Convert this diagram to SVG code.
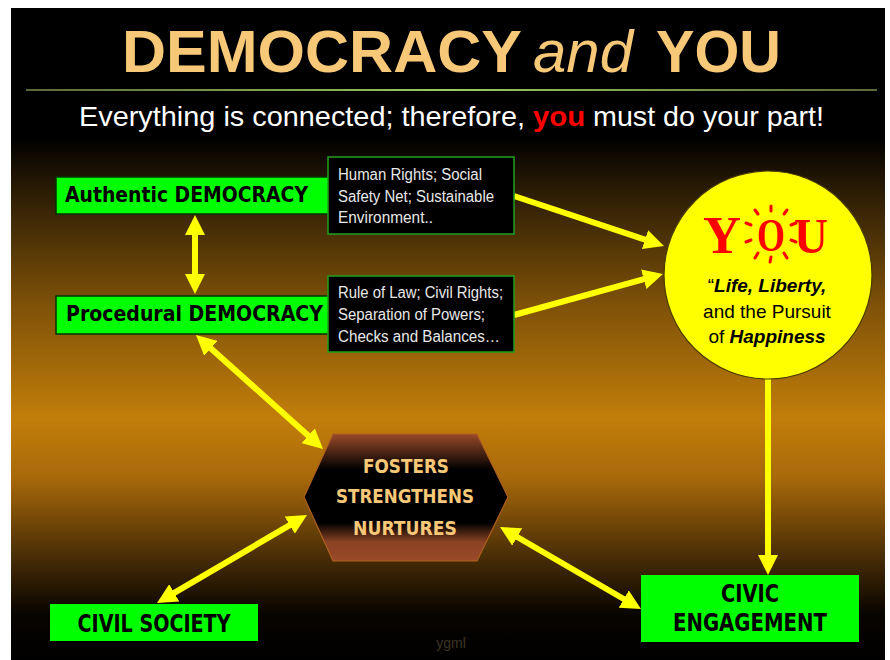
<svg xmlns="http://www.w3.org/2000/svg" width="890" height="660" viewBox="0 0 890 660">
<defs>
<linearGradient id="bg" x1="0" y1="8" x2="0" y2="660" gradientUnits="userSpaceOnUse">
<stop offset="0" stop-color="#000"/>
<stop offset="0.2" stop-color="#000"/>
<stop offset="0.25" stop-color="#1c1204"/>
<stop offset="0.45" stop-color="#7c5008"/>
<stop offset="0.63" stop-color="#c27e0a"/>
<stop offset="0.72" stop-color="#a8690a"/>
<stop offset="0.84" stop-color="#4a2e06"/>
<stop offset="0.93" stop-color="#080400"/>
<stop offset="1" stop-color="#000"/>
</linearGradient>
<linearGradient id="rule" x1="26" y1="0" x2="877" y2="0" gradientUnits="userSpaceOnUse">
<stop offset="0" stop-color="#5a6a3a"/>
<stop offset="0.5" stop-color="#9acc60"/>
<stop offset="1" stop-color="#5a6a3a"/>
</linearGradient>
<linearGradient id="hexg" x1="0" y1="434" x2="0" y2="561" gradientUnits="userSpaceOnUse">
<stop offset="0" stop-color="#9a4a28"/>
<stop offset="0.28" stop-color="#000"/>
<stop offset="0.7" stop-color="#000"/>
<stop offset="0.85" stop-color="#8a4224"/>
<stop offset="1" stop-color="#9a4a28"/>
</linearGradient>
<marker id="ah" viewBox="0 0 20 20" markerUnits="userSpaceOnUse" markerWidth="20" markerHeight="20" refX="4" refY="10" orient="auto-start-reverse">
<path d="M0,0 L20,10 L0,20 z" fill="#ffff00"/>
</marker>
<style>
.box{fill:#00ff00;stroke:#003300;stroke-width:1.5}
.note{fill:#000;stroke:#1fa01f;stroke-width:1.5}
.bt{font-family:"DejaVu Sans",sans-serif;font-weight:bold;fill:#000}
.ct{font-family:"DejaVu Sans Condensed","DejaVu Sans",sans-serif;font-weight:bold;fill:#000}
.nt{font-family:"Liberation Sans",Arial,sans-serif;font-size:16px;fill:#e8e8e8}
.ht{font-family:"DejaVu Sans",sans-serif;font-weight:bold;font-size:19px;fill:#f7c877;text-anchor:middle}
.arr{stroke:#ffff00;stroke-width:6;fill:none}
.ray{stroke:#ff0000;stroke-width:3;stroke-linecap:round}
</style>
</defs>

<rect x="0" y="0" width="890" height="660" fill="#fff"/>
<rect x="11" y="8" width="874" height="652" fill="url(#bg)"/>

<g id="title">
<text x="122" y="72" font-family="Liberation Sans,Arial,sans-serif" font-weight="bold" font-size="59" fill="#f7c877" textLength="400" lengthAdjust="spacingAndGlyphs">DEMOCRACY</text>
<text x="533" y="72" font-family="Liberation Sans,Arial,sans-serif" font-style="italic" font-size="59" fill="#f7c877" textLength="100" lengthAdjust="spacingAndGlyphs">and</text>
<text x="656" y="72" font-family="Liberation Sans,Arial,sans-serif" font-weight="bold" font-size="59" fill="#f7c877" textLength="125" lengthAdjust="spacingAndGlyphs">YOU</text>
<rect x="26" y="89" width="851" height="2" fill="url(#rule)"/>
<text x="79" y="126" font-family="Liberation Sans,Arial,sans-serif" font-size="28" fill="#fff" textLength="446" lengthAdjust="spacingAndGlyphs">Everything is connected; therefore,</text>
<text x="533" y="126" font-family="Liberation Sans,Arial,sans-serif" font-weight="bold" font-size="28" fill="#ff0000" textLength="52" lengthAdjust="spacingAndGlyphs">you</text>
<text x="593" y="126" font-family="Liberation Sans,Arial,sans-serif" font-size="28" fill="#fff" textLength="231" lengthAdjust="spacingAndGlyphs">must do your part!</text>
</g>

<g id="connectors">
<line class="arr" x1="195" y1="231" x2="195" y2="278" marker-start="url(#ah)" marker-end="url(#ah)"/>
<line class="arr" x1="207.9" y1="345.7" x2="311.1" y2="438.3" marker-start="url(#ah)" marker-end="url(#ah)"/>
<line class="arr" x1="170.8" y1="594.9" x2="293.2" y2="523.1" marker-start="url(#ah)" marker-end="url(#ah)"/>
<line class="arr" x1="513.8" y1="535" x2="627.2" y2="601" marker-start="url(#ah)" marker-end="url(#ah)"/>
<line class="arr" x1="514" y1="196" x2="648.8" y2="240.9" marker-end="url(#ah)"/>
<line class="arr" x1="514" y1="315" x2="647.6" y2="278.2" marker-end="url(#ah)"/>
<line class="arr" x1="768" y1="379" x2="768" y2="559" marker-end="url(#ah)"/>
</g>

<g id="authentic">
<rect class="box" x="56" y="177" width="276" height="37"/>
<text class="bt" x="65" y="202" font-size="21" textLength="243" lengthAdjust="spacingAndGlyphs">Authentic DEMOCRACY</text>
</g>

<g id="procedural">
<rect class="box" x="56" y="296" width="276" height="38"/>
<text class="bt" x="66" y="321" font-size="21" textLength="257" lengthAdjust="spacingAndGlyphs">Procedural DEMOCRACY</text>
</g>

<g id="note-authentic">
<rect class="note" x="328" y="157" width="186" height="77"/>
<text class="nt" x="338" y="180" textLength="144" lengthAdjust="spacingAndGlyphs">Human Rights; Social</text>
<text class="nt" x="338" y="202" textLength="156" lengthAdjust="spacingAndGlyphs">Safety Net; Sustainable</text>
<text class="nt" x="338" y="223" textLength="95" lengthAdjust="spacingAndGlyphs">Environment..</text>
</g>

<g id="note-procedural">
<rect class="note" x="328" y="276" width="186" height="76"/>
<text class="nt" x="338" y="298" textLength="165" lengthAdjust="spacingAndGlyphs">Rule of Law; Civil Rights;</text>
<text class="nt" x="338" y="320" textLength="147" lengthAdjust="spacingAndGlyphs">Separation of Powers;</text>
<text class="nt" x="338" y="342" textLength="162" lengthAdjust="spacingAndGlyphs">Checks and Balances…</text>
</g>

<g id="you">
<circle cx="768" cy="275" r="104" fill="#ffff00" stroke="#4a3c00" stroke-width="1.2"/>
<text x="703" y="253" font-family="Liberation Serif,serif" font-weight="bold" font-size="52" fill="#ff0000" textLength="38" lengthAdjust="spacingAndGlyphs">Y</text>
<text x="757" y="251" font-family="Liberation Serif,serif" font-weight="bold" font-size="46" fill="#ff0000" textLength="28" lengthAdjust="spacingAndGlyphs">O</text>
<text x="794" y="253" font-family="Liberation Serif,serif" font-weight="bold" font-size="50" fill="#ff0000" textLength="34" lengthAdjust="spacingAndGlyphs">U</text>
<g class="ray">
<line x1="771" y1="211" x2="771" y2="206"/>
<line x1="784" y1="214" x2="787" y2="210"/>
<line x1="791" y1="225" x2="796" y2="223"/>
<line x1="791" y1="240" x2="796" y2="242"/>
<line x1="784" y1="253" x2="787" y2="258"/>
<line x1="771" y1="257" x2="770" y2="262"/>
<line x1="758" y1="253" x2="755" y2="258"/>
<line x1="751" y1="240" x2="746" y2="242"/>
<line x1="751" y1="225" x2="746" y2="223"/>
<line x1="758" y1="214" x2="755" y2="210"/>
</g>
<text x="767" y="292" font-family="Liberation Sans,Arial,sans-serif" font-size="19" fill="#000" text-anchor="middle">“<tspan font-weight="bold" font-style="italic">Life, Liberty,</tspan></text>
<text x="767" y="318" font-family="Liberation Sans,Arial,sans-serif" font-size="19" fill="#000" text-anchor="middle">and the Pursuit</text>
<text x="767" y="343" font-family="Liberation Sans,Arial,sans-serif" font-size="19" fill="#000" text-anchor="middle">of <tspan font-weight="bold" font-style="italic">Happiness</tspan></text>
</g>

<g id="fosters">
<polygon points="333,434 477,434 508,497 477,561 333,561 304,497" fill="url(#hexg)" stroke="#b0601e" stroke-width="1.2"/>
<text class="ht" x="406" y="473" textLength="86" lengthAdjust="spacingAndGlyphs">FOSTERS</text>
<text class="ht" x="405" y="503" textLength="138" lengthAdjust="spacingAndGlyphs">STRENGTHENS</text>
<text class="ht" x="405" y="535" textLength="104" lengthAdjust="spacingAndGlyphs">NURTURES</text>
</g>

<g id="civil-society">
<rect x="50" y="604" width="208" height="37" fill="#00ff00"/>
<text class="ct" x="154" y="632" font-size="25" text-anchor="middle" textLength="153" lengthAdjust="spacingAndGlyphs">CIVIL SOCIETY</text>
</g>

<g id="civic-engagement">
<rect x="641" y="575" width="218" height="67" fill="#00ff00"/>
<text class="ct" x="750" y="602" font-size="24" text-anchor="middle" textLength="58" lengthAdjust="spacingAndGlyphs">CIVIC</text>
<text class="ct" x="750" y="631" font-size="24" text-anchor="middle" textLength="154" lengthAdjust="spacingAndGlyphs">ENGAGEMENT</text>
</g>

<text x="451" y="648" font-family="Liberation Sans,Arial,sans-serif" font-size="14" fill="#3e3424" text-anchor="middle">ygml</text>
</svg>
